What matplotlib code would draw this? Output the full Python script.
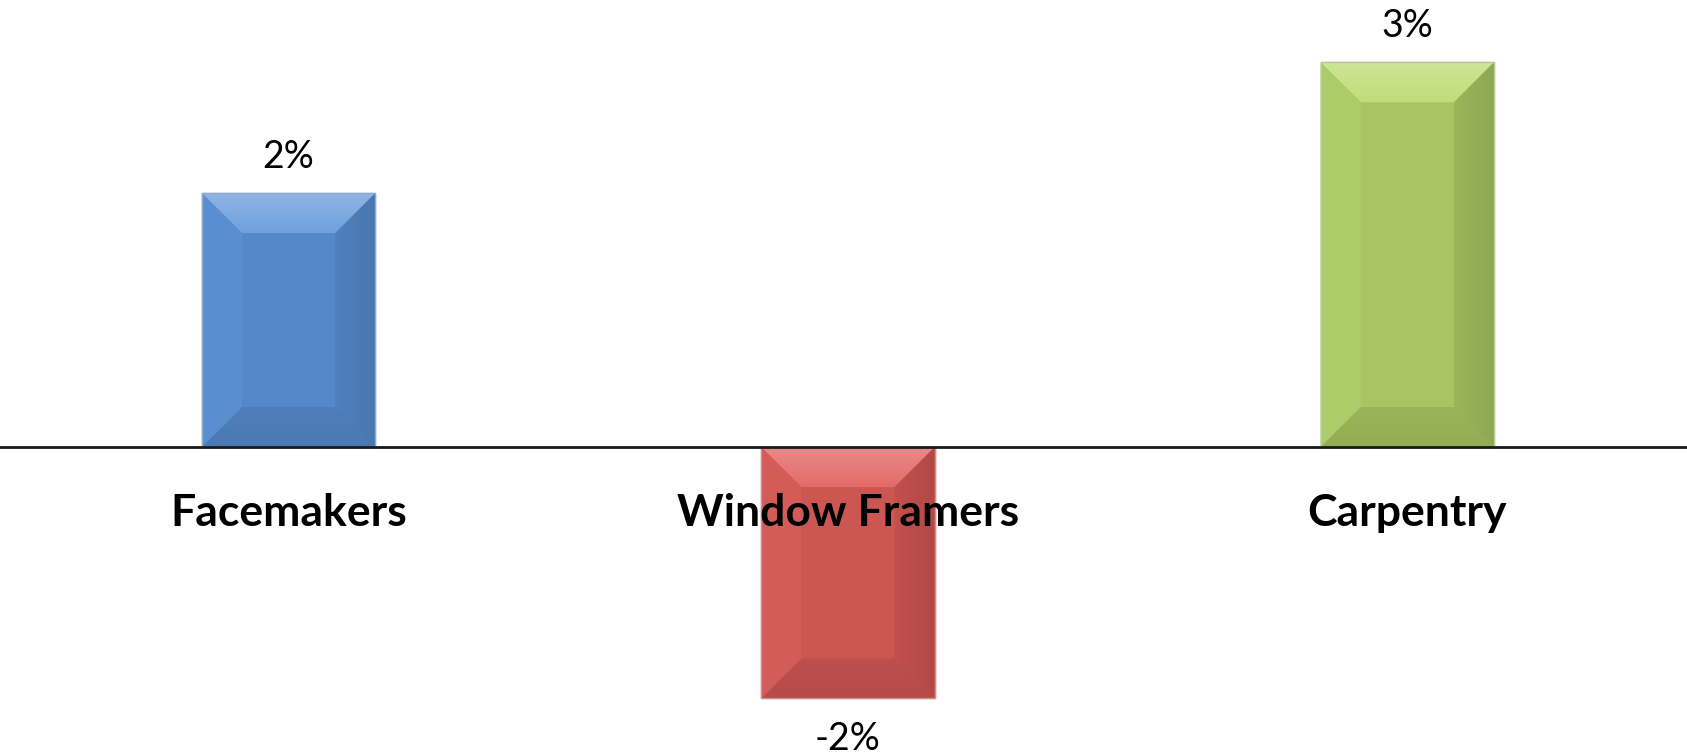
import matplotlib
matplotlib.use("Agg")
import matplotlib.pyplot as plt
from matplotlib.patches import Polygon
import numpy as np

categories = ["Facemakers", "Window Framers", "Carpentry"]
values = [0.020, -0.0198, 0.0303]
labels = ["2%", "-2%", "3%"]

face_colors = ["#5588C9", "#CC5652", "#A7C663"]
top_colors = ["#6F9FDD", "#E26A66", "#BFDD77"]
bottom_colors = ["#4F7EBC", "#BE4F4C", "#98B559"]
left_colors = ["#5A8ED2", "#D45C58", "#ACCC68"]
right_colors = ["#5081C0", "#C2504D", "#9AB75A"]
edge_colors = ["#8FA9CF", "#C99290", "#B7C99A"]

W, H = 1687, 756
fig = plt.figure(figsize=(W / 100, H / 100), dpi=100)
ax = fig.add_axes([0, 0, 1, 1])
ax.set_xlim(-0.516, 2.5)
ax.set_ylim(-0.02433, 0.0352)
ax.axis("off")

x = np.arange(len(categories))
bars = ax.bar(x, values, width=0.31, color=face_colors, edgecolor=edge_colors,
              linewidth=1.0, zorder=2)

fig.canvas.draw()
to_disp = ax.transData
to_data = ax.transData.inverted()
bev = 40  # bevel width in pixels

for i, b in enumerate(bars):
    x0, y0 = b.get_x(), b.get_y()
    x1, y1 = x0 + b.get_width(), y0 + b.get_height()
    (px0, py0), (px1, py1) = to_disp.transform([(x0, min(y0, y1)), (x1, max(y0, y1))])
    outer = [(px0, py1), (px1, py1), (px1, py0), (px0, py0)]
    inner = [(px0 + bev, py1 - bev), (px1 - bev, py1 - bev), (px1 - bev, py0 + bev), (px0 + bev, py0 + bev)]
    faces = [
        ([outer[0], outer[1], inner[1], inner[0]], top_colors[i]),
        ([outer[1], outer[2], inner[2], inner[1]], right_colors[i]),
        ([outer[2], outer[3], inner[3], inner[2]], bottom_colors[i]),
        ([outer[3], outer[0], inner[0], inner[3]], left_colors[i]),
    ]
    for pts, c in faces:
        ax.add_patch(Polygon(to_data.transform(pts), closed=True, facecolor=c,
                             edgecolor="none", zorder=3))
    n = 14
    for k in range(n):
        t0 = k / n * bev
        t1 = (k + 1) / n * bev
        f = (1 - k / n)
        pts = [(px0 + t0, py1 - t0), (px1 - t0, py1 - t0), (px1 - t1, py1 - t1), (px0 + t1, py1 - t1)]
        ax.add_patch(Polygon(to_data.transform(pts), closed=True, facecolor="white",
                             alpha=0.22 * f, edgecolor="none", zorder=3.5))
        pts = [(px1 - t0, py1 - t0), (px1 - t0, py0 + t0), (px1 - t1, py0 + t1), (px1 - t1, py1 - t1)]
        ax.add_patch(Polygon(to_data.transform(pts), closed=True, facecolor="black",
                             alpha=0.08 * f, edgecolor="none", zorder=3.5))
        pts = [(px0 + t0, py0 + t0), (px1 - t0, py0 + t0), (px1 - t1, py0 + t1), (px0 + t1, py0 + t1)]
        ax.add_patch(Polygon(to_data.transform(pts), closed=True, facecolor="black",
                             alpha=0.04 * f, edgecolor="none", zorder=3.5))
    ax.add_patch(Polygon(to_data.transform(outer), closed=True, facecolor="none",
                         edgecolor=edge_colors[i], linewidth=1.0, zorder=4))

ax.axhline(0, color="#1a1a1a", linewidth=2.0, zorder=5)

for i, (v, lab) in enumerate(zip(values, labels)):
    if v >= 0:
        ax.annotate(lab, (x[i], v), xytext=(0, 18), textcoords="offset pixels",
                    ha="center", va="bottom", fontsize=27, family="Lato", zorder=6)
    else:
        ax.annotate(lab, (x[i], v), xytext=(0, -23), textcoords="offset pixels",
                    ha="center", va="top", fontsize=27, family="Lato", zorder=6)

for i, c in enumerate(categories):
    ax.annotate(c, (x[i], 0), xytext=(0, -66), textcoords="offset pixels",
                ha="center", va="center", fontsize=32, fontweight="bold",
                family="Lato", zorder=6)

fig.savefig("out.png", dpi=100)
